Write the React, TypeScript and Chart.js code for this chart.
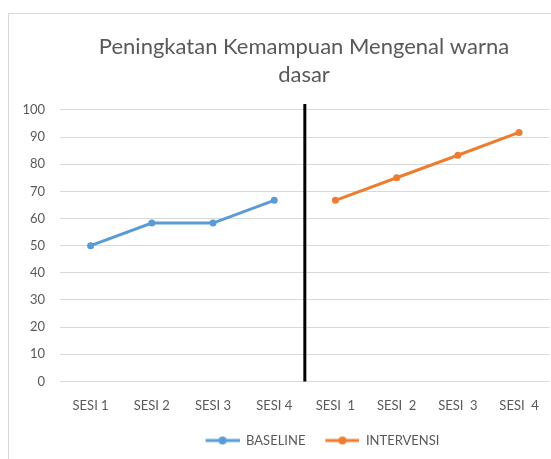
import React, { useEffect, useRef } from "react";
import { Chart, registerables } from "chart.js";

Chart.register(...registerables);

const titleLines = ["Peningkatan Kemampuan Mengenal warna", "dasar"];
const categories = ["SESI 1", "SESI 2", "SESI 3", "SESI 4", "SESI  1", "SESI  2", "SESI  3", "SESI  4"];
const baseline = [50, 58.3, 58.3, 66.7, null, null, null, null];
const intervensi = [null, null, null, null, 66.7, 75, 83.3, 91.7];
const yTicks = [0, 10, 20, 30, 40, 50, 60, 70, 80, 90, 100];
const phaseBoundary = 3.5;

const BLUE = "#5B9BD5";
const ORANGE = "#ED7D31";
const TEXT = "#595959";
const FONT = "Lato, 'Liberation Sans', sans-serif";
const ICON_GAP = 17;
const ICON_W = 34;
const LEGEND_SHIFT = 32;
const TITLE_SHIFT = 22;

function makeLegendIcon(color: string) {
  const c = document.createElement("canvas");
  c.width = ICON_GAP + ICON_W;
  c.height = 10;
  const ctx = c.getContext("2d")!;
  ctx.strokeStyle = color;
  ctx.lineWidth = 3;
  ctx.beginPath();
  ctx.moveTo(ICON_GAP, 5);
  ctx.lineTo(ICON_GAP + ICON_W, 5);
  ctx.stroke();
  ctx.fillStyle = color;
  ctx.beginPath();
  ctx.arc(ICON_GAP + ICON_W / 2, 5, 4, 0, Math.PI * 2);
  ctx.fill();
  return c;
}

const dividerPlugin = {
  id: "divider",
  afterLayout(chart: any) {
    if (chart.legend) {
      chart.legend.left += LEGEND_SHIFT;
      chart.legend.right += LEGEND_SHIFT;
    }
    if (chart.titleBlock) {
      chart.titleBlock.left += TITLE_SHIFT;
      chart.titleBlock.right += TITLE_SHIFT;
    }
  },
  afterDatasetsDraw(chart: any) {
    const x = chart.scales.x;
    const area = chart.chartArea;
    const px = x.getPixelForValue(phaseBoundary);
    const ctx = chart.ctx;
    ctx.save();
    ctx.strokeStyle = "#000000";
    ctx.lineWidth = 3;
    ctx.beginPath();
    ctx.moveTo(px, area.top - 6);
    ctx.lineTo(px, area.bottom);
    ctx.stroke();
    ctx.restore();
  },
};

export default function App() {
  const ref = useRef<HTMLCanvasElement | null>(null);
  useEffect(() => {
    if (!ref.current) return;
    const chart = new Chart(ref.current, {
      type: "line",
      data: {
        labels: categories,
        datasets: [
          {
            label: "BASELINE",
            data: baseline,
            borderColor: BLUE,
            backgroundColor: BLUE,
            borderWidth: 3,
            pointRadius: 3.5,
            pointHoverRadius: 3.5,
            pointBorderWidth: 0,
            spanGaps: false,
            pointStyle: "circle",
          },
          {
            label: "INTERVENSI",
            data: intervensi,
            borderColor: ORANGE,
            backgroundColor: ORANGE,
            borderWidth: 3,
            pointRadius: 3.5,
            pointHoverRadius: 3.5,
            pointBorderWidth: 0,
            spanGaps: false,
            pointStyle: "circle",
          },
        ],
      },
      options: {
        responsive: false,
        animation: false,
        layout: { padding: { left: 0, right: 0, top: 0, bottom: 2 } },
        plugins: {
          title: {
            display: true,
            text: titleLines,
            color: TEXT,
            font: { family: FONT, size: 22, weight: "normal", lineHeight: 1.27 },
            padding: { top: 20, bottom: 21 },
          },
          legend: {
            position: "bottom",
            labels: {
              color: TEXT,
              font: { family: FONT, size: 13 },
              usePointStyle: true,
              pointStyleWidth: ICON_GAP + ICON_W,
              boxHeight: 10,
              padding: 3,
              generateLabels: (chart: any) =>
                chart.data.datasets.map((ds: any, i: number) => ({
                  text: ds.label,
                  fontColor: TEXT,
                  pointStyle: makeLegendIcon(ds.borderColor),
                  datasetIndex: i,
                  hidden: false,
                  lineWidth: 0,
                  strokeStyle: ds.borderColor,
                  fillStyle: ds.borderColor,
                })),
            },
          },
          tooltip: { enabled: false },
        },
        scales: {
          x: {
            type: "category",
            offset: true,
            grid: { display: false, drawTicks: false },
            border: { display: false },
            ticks: {
              color: TEXT,
              font: { family: FONT, size: 13 },
              padding: 17,
              maxRotation: 0,
              autoSkip: false,
            },
          },
          y: {
            min: 0,
            max: 100,
            afterBuildTicks: (scale: any) => {
              scale.ticks = yTicks.map((v) => ({ value: v }));
            },
            afterFit: (scale: any) => {
              scale.width = 52;
            },
            grid: { color: "#D9D9D9", lineWidth: 1, drawTicks: false },
            border: { display: false },
            ticks: {
              color: TEXT,
              font: { family: FONT, size: 13 },
              padding: 15,
            },
          },
        },
      },
      plugins: [dividerPlugin],
    });
    return () => chart.destroy();
  }, []);

  return (
    <div style={{ position: "fixed", inset: 0, overflow: "hidden", background: "#fff" }}>
      <div
        style={{
          position: "absolute",
          left: 8,
          top: 13,
          width: 560,
          height: 470,
          border: "1px solid #D9D9D9",
          boxSizing: "border-box",
        }}
      />
      <canvas
        ref={ref}
        width={548}
        height={446}
        style={{ position: "absolute", left: 8, top: 13, width: 548, height: 446 }}
      />
    </div>
  );
}
